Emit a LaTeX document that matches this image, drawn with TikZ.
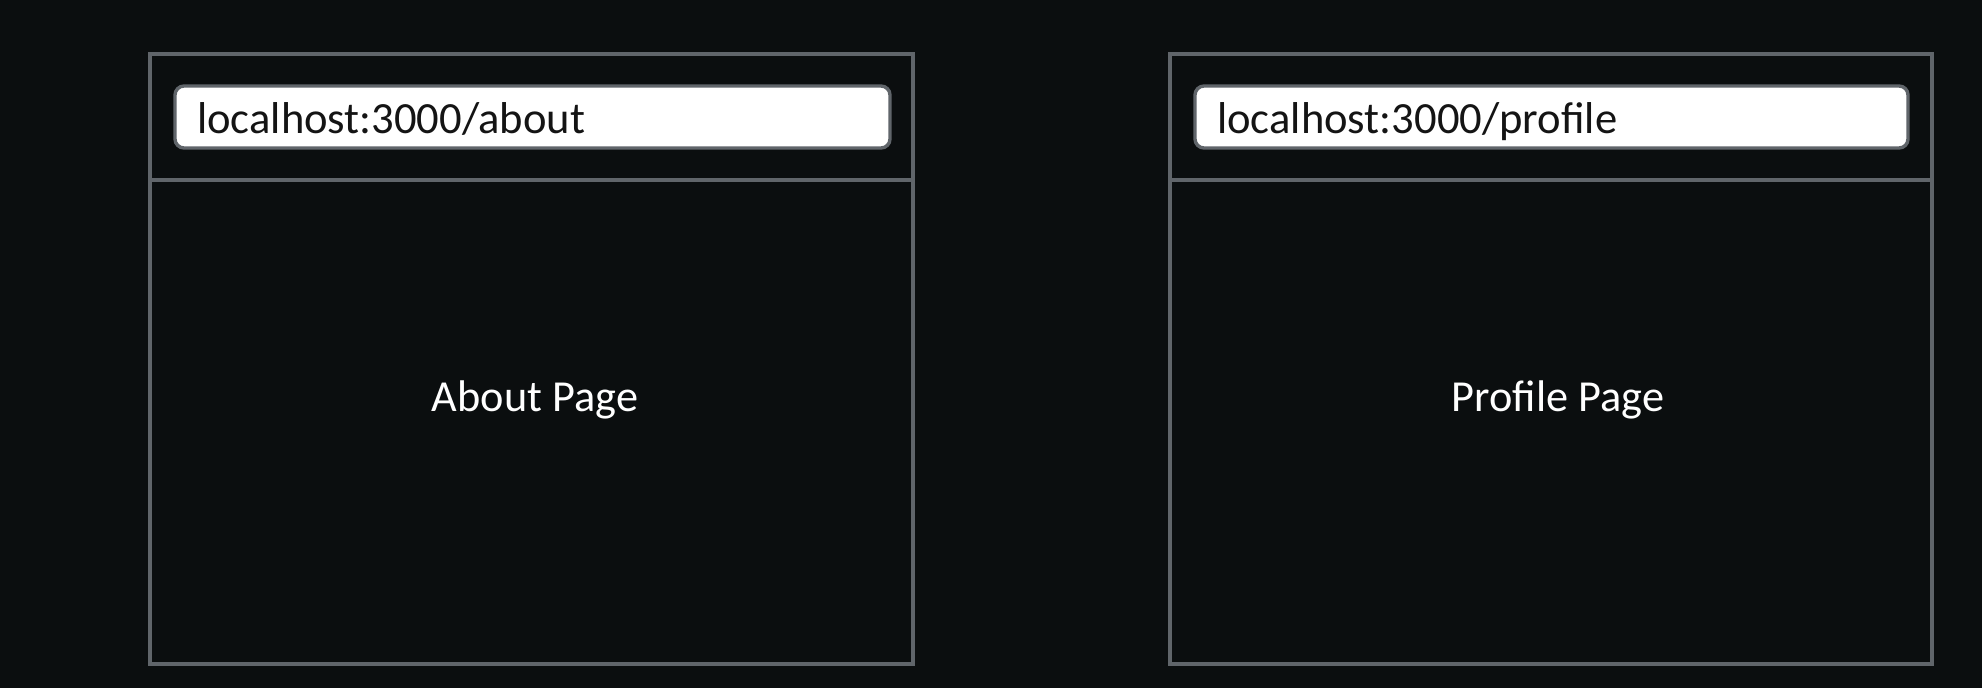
\documentclass[tikz,border=0pt]{standalone}
\usepackage{fontspec}
\setmainfont{Carlito}
\definecolor{bg}{RGB}{11,14,15}
\definecolor{frame}{RGB}{96,101,106}
\definecolor{urltext}{RGB}{20,20,20}
\tikzset{
  win/.style={draw=frame, line width=3.4pt, fill=bg},
  sep/.style={draw=frame, line width=3.4pt},
  bar/.style={draw=frame, line width=3.4pt, fill=white, rounded corners=9pt},
  urlt/.style={anchor=base west, inner sep=0pt, text=urltext, font=\fontsize{44.6}{52}\selectfont},
  pagelabel/.style={anchor=base, inner sep=0pt, text=white, font=\fontsize{44.3}{52}\selectfont}
}
\begin{document}
\begin{tikzpicture}[x=1pt,y=-1pt]
\fill[bg] (0,0) rectangle (1982,688);
\useasboundingbox (0,0) rectangle (1982,688);
% left window
\draw[win] (150,54) rectangle (913,664);
\coordinate (l1) at (150,180);
\coordinate (l2) at (913,180);
\draw[sep] (l1) -- (l2);
\draw[bar] (175,86) rectangle (890,148);
\node[urlt] (urlA) at (197,133) {localhost:3000/about};
\node[pagelabel] (pageA) at (535,411) {About Page};
% right window
\draw[win] (1170,54) rectangle (1932,664);
\coordinate (r1) at (1170,180);
\coordinate (r2) at (1932,180);
\draw[sep] (r1) -- (r2);
\draw[bar] (1195,86) rectangle (1908,148);
\node[urlt] (urlB) at (1217,133) {localhost:3000/profile};
\node[pagelabel] (pageB) at (1558,411) {Profile Page};
\end{tikzpicture}
\end{document}
